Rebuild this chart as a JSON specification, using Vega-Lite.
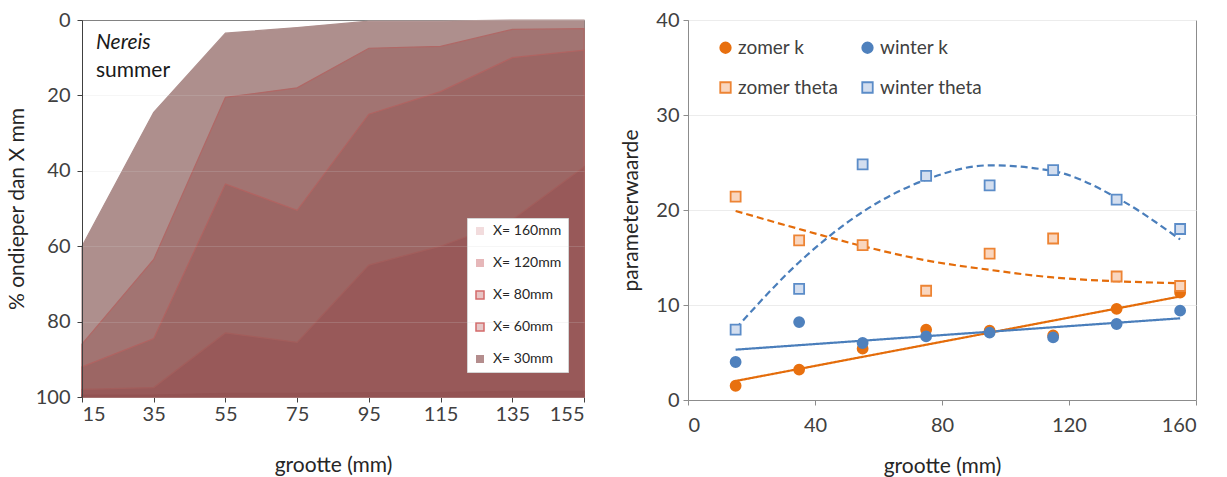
{
  "$schema": "https://vega.github.io/schema/vega-lite/v6.json",
  "padding": {"left": 5, "top": 9, "right": 10, "bottom": 4},
  "spacing": 32,
  "resolve": {
    "scale": {"color": "independent", "fill": "independent", "stroke": "independent", "shape": "independent", "strokeDash": "independent", "x": "independent", "y": "independent"},
    "legend": {"color": "independent", "fill": "independent", "stroke": "independent", "shape": "independent"}
  },
  "config": {
    "font": "Lato",
    "view": {"stroke": null},
    "axis": {
      "labelFont": "Lato", "titleFont": "Lato",
      "labelFontSize": 20, "titleFontSize": 21,
      "labelColor": "#404040", "titleColor": "#262626",
      "titleFontWeight": "normal",
      "tickSize": 5
    },
    "legend": {"labelFont": "Lato", "labelColor": "#262626"}
  },
  "datasets": {
    "depth": [
      {"grootte": 15, "laag": "X= 160mm", "pct": 60},
      {"grootte": 35, "laag": "X= 160mm", "pct": 24.5},
      {"grootte": 55, "laag": "X= 160mm", "pct": 3.5},
      {"grootte": 75, "laag": "X= 160mm", "pct": 2},
      {"grootte": 95, "laag": "X= 160mm", "pct": 0.3},
      {"grootte": 115, "laag": "X= 160mm", "pct": 0.3},
      {"grootte": 135, "laag": "X= 160mm", "pct": 0},
      {"grootte": 155, "laag": "X= 160mm", "pct": 0},
      {"grootte": 15, "laag": "X= 120mm", "pct": 86},
      {"grootte": 35, "laag": "X= 120mm", "pct": 63.5},
      {"grootte": 55, "laag": "X= 120mm", "pct": 20.5},
      {"grootte": 75, "laag": "X= 120mm", "pct": 18},
      {"grootte": 95, "laag": "X= 120mm", "pct": 7.5},
      {"grootte": 115, "laag": "X= 120mm", "pct": 7},
      {"grootte": 135, "laag": "X= 120mm", "pct": 2.5},
      {"grootte": 155, "laag": "X= 120mm", "pct": 2.3},
      {"grootte": 15, "laag": "X= 80mm", "pct": 92},
      {"grootte": 35, "laag": "X= 80mm", "pct": 84.5},
      {"grootte": 55, "laag": "X= 80mm", "pct": 43.5},
      {"grootte": 75, "laag": "X= 80mm", "pct": 50.5},
      {"grootte": 95, "laag": "X= 80mm", "pct": 25},
      {"grootte": 115, "laag": "X= 80mm", "pct": 19},
      {"grootte": 135, "laag": "X= 80mm", "pct": 10},
      {"grootte": 155, "laag": "X= 80mm", "pct": 8},
      {"grootte": 15, "laag": "X= 60mm", "pct": 98},
      {"grootte": 35, "laag": "X= 60mm", "pct": 97.5},
      {"grootte": 55, "laag": "X= 60mm", "pct": 83},
      {"grootte": 75, "laag": "X= 60mm", "pct": 85.5},
      {"grootte": 95, "laag": "X= 60mm", "pct": 65},
      {"grootte": 115, "laag": "X= 60mm", "pct": 60},
      {"grootte": 135, "laag": "X= 60mm", "pct": 53},
      {"grootte": 155, "laag": "X= 60mm", "pct": 39},
      {"grootte": 15, "laag": "X= 30mm", "pct": 99.5},
      {"grootte": 35, "laag": "X= 30mm", "pct": 99.5},
      {"grootte": 55, "laag": "X= 30mm", "pct": 99},
      {"grootte": 75, "laag": "X= 30mm", "pct": 99},
      {"grootte": 95, "laag": "X= 30mm", "pct": 98.8},
      {"grootte": 115, "laag": "X= 30mm", "pct": 98.8},
      {"grootte": 135, "laag": "X= 30mm", "pct": 98.5},
      {"grootte": 155, "laag": "X= 30mm", "pct": 98.5}
    ],
    "labels": [
      {"tekst": "Nereis", "grootte": 15, "pct": 6, "stijl": "italic"},
      {"tekst": "summer", "grootte": 15, "pct": 13.4, "stijl": "normal"}
    ],
    "pts": [
      {"grootte": 15, "reeks": "zomer k", "waarde": 1.5},
      {"grootte": 35, "reeks": "zomer k", "waarde": 3.2},
      {"grootte": 55, "reeks": "zomer k", "waarde": 5.4},
      {"grootte": 75, "reeks": "zomer k", "waarde": 7.4},
      {"grootte": 95, "reeks": "zomer k", "waarde": 7.3},
      {"grootte": 115, "reeks": "zomer k", "waarde": 6.8},
      {"grootte": 135, "reeks": "zomer k", "waarde": 9.6},
      {"grootte": 155, "reeks": "zomer k", "waarde": 11.3},
      {"grootte": 15, "reeks": "winter k", "waarde": 4.0},
      {"grootte": 35, "reeks": "winter k", "waarde": 8.2},
      {"grootte": 55, "reeks": "winter k", "waarde": 6.0},
      {"grootte": 75, "reeks": "winter k", "waarde": 6.7},
      {"grootte": 95, "reeks": "winter k", "waarde": 7.1},
      {"grootte": 115, "reeks": "winter k", "waarde": 6.6},
      {"grootte": 135, "reeks": "winter k", "waarde": 8.0},
      {"grootte": 155, "reeks": "winter k", "waarde": 9.4},
      {"grootte": 15, "reeks": "zomer theta", "waarde": 21.4},
      {"grootte": 35, "reeks": "zomer theta", "waarde": 16.8},
      {"grootte": 55, "reeks": "zomer theta", "waarde": 16.3},
      {"grootte": 75, "reeks": "zomer theta", "waarde": 11.5},
      {"grootte": 95, "reeks": "zomer theta", "waarde": 15.4},
      {"grootte": 115, "reeks": "zomer theta", "waarde": 17.0},
      {"grootte": 135, "reeks": "zomer theta", "waarde": 13.0},
      {"grootte": 155, "reeks": "zomer theta", "waarde": 12.0},
      {"grootte": 15, "reeks": "winter theta", "waarde": 7.4},
      {"grootte": 35, "reeks": "winter theta", "waarde": 11.7},
      {"grootte": 55, "reeks": "winter theta", "waarde": 24.8},
      {"grootte": 75, "reeks": "winter theta", "waarde": 23.6},
      {"grootte": 95, "reeks": "winter theta", "waarde": 22.6},
      {"grootte": 115, "reeks": "winter theta", "waarde": 24.2},
      {"grootte": 135, "reeks": "winter theta", "waarde": 21.1},
      {"grootte": 155, "reeks": "winter theta", "waarde": 18.0}
    ],
    "trend": [
      {"grootte": 15, "reeks": "zomer k", "waarde": 2.0},
      {"grootte": 155, "reeks": "zomer k", "waarde": 10.9},
      {"grootte": 15, "reeks": "winter k", "waarde": 5.3},
      {"grootte": 155, "reeks": "winter k", "waarde": 8.6},
      {"grootte": 15, "reeks": "zomer theta", "waarde": 19.9},
      {"grootte": 35, "reeks": "zomer theta", "waarde": 18.0},
      {"grootte": 55, "reeks": "zomer theta", "waarde": 16.2},
      {"grootte": 75, "reeks": "zomer theta", "waarde": 14.7},
      {"grootte": 95, "reeks": "zomer theta", "waarde": 13.7},
      {"grootte": 115, "reeks": "zomer theta", "waarde": 12.9},
      {"grootte": 135, "reeks": "zomer theta", "waarde": 12.5},
      {"grootte": 155, "reeks": "zomer theta", "waarde": 12.3},
      {"grootte": 15, "reeks": "winter theta", "waarde": 7.5},
      {"grootte": 35, "reeks": "winter theta", "waarde": 14.5},
      {"grootte": 55, "reeks": "winter theta", "waarde": 19.8},
      {"grootte": 75, "reeks": "winter theta", "waarde": 23.2},
      {"grootte": 95, "reeks": "winter theta", "waarde": 24.7},
      {"grootte": 115, "reeks": "winter theta", "waarde": 24.1},
      {"grootte": 135, "reeks": "winter theta", "waarde": 21.3},
      {"grootte": 155, "reeks": "winter theta", "waarde": 16.9}
    ]
  },
  "hconcat": [
    {
      "width": 502,
      "height": 377,
      "view": {"stroke": "#6e6e6e"},
      "layer": [
        {
          "data": {"name": "depth"},
          "mark": {"type": "area", "strokeWidth": 1.2},
          "encoding": {
            "x": {"field": "grootte", "type": "quantitative",
              "scale": {"domain": [15, 155], "nice": false, "zero": false},
              "axis": {"values": [15, 35, 55, 75, 95, 115, 135, 155], "title": "grootte (mm)", "labelPadding": 2, "titlePadding": 30, "grid": false, "domainColor": "#404040", "tickColor": "#404040"}},
            "y": {"field": "pct", "type": "quantitative", "stack": null,
              "scale": {"domain": [0, 100], "reverse": true, "nice": false},
              "axis": {"values": [0, 20, 40, 60, 80, 100], "title": "% ondieper dan  X mm", "labelPadding": 7, "titlePadding": 8, "grid": true, "gridColor": "#d0d0d0", "gridOpacity": 0.2, "zindex": 1, "domainColor": "#404040", "tickColor": "#404040"}},
            "y2": {"datum": 100},
            "fill": {"field": "laag", "type": "nominal",
              "scale": {"domain": ["X= 30mm", "X= 60mm", "X= 80mm", "X= 120mm", "X= 160mm"], "range": ["#935353", "#985959", "#9c6664", "#a27472", "#ae8f8d"]},
              "legend": null},
            "stroke": {"field": "laag", "type": "nominal",
              "scale": {"domain": ["X= 30mm", "X= 60mm", "X= 80mm", "X= 120mm", "X= 160mm"], "range": ["#935353", "#a25e5c", "#b06462", "#b06866", "#ae8f8d"]},
              "legend": null}
          }
        },
        {
          "data": {"name": "depth"},
          "mark": {"type": "point", "shape": "square", "filled": true, "opacity": 0},
          "encoding": {
            "x": {"field": "grootte", "type": "quantitative"},
            "y": {"field": "pct", "type": "quantitative"},
            "color": {"field": "laag", "type": "nominal",
              "scale": {"domain": ["X= 160mm", "X= 120mm", "X= 80mm", "X= 60mm", "X= 30mm"], "range": ["#f2dcdd", "#e6b7b9", "#e8c4c4", "#e6c8c8", "#b48d8d"]},
              "legend": {"title": null, "orient": "none", "legendX": 385, "legendY": 198,
                "fillColor": "#ffffff", "strokeColor": "#d4d4d4", "padding": 6,
                "symbolType": "square", "symbolSize": 64, "symbolOpacity": 1,
                "labelFontSize": 14, "rowPadding": 18, "labelOffset": 6,
                "encode": {"symbols": {"update": {
                  "stroke": {"signal": "datum.value == 'X= 80mm' || datum.value == 'X= 60mm' ? '#d46a6a' : null"},
                  "strokeWidth": {"value": 1.5},
                  "opacity": {"value": 1}}}}}}
          }
        },
        {
          "data": {"name": "labels"},
          "transform": [{"filter": "datum.stijl == 'italic'"}],
          "mark": {"type": "text", "align": "left", "baseline": "middle", "dx": 14, "fontSize": 21, "fontStyle": "italic", "color": "#1a1a1a"},
          "encoding": {
            "x": {"field": "grootte", "type": "quantitative"},
            "y": {"field": "pct", "type": "quantitative"},
            "text": {"field": "tekst"}
          }
        },
        {
          "data": {"name": "labels"},
          "transform": [{"filter": "datum.stijl == 'normal'"}],
          "mark": {"type": "text", "align": "left", "baseline": "middle", "dx": 14, "fontSize": 21, "color": "#1a1a1a"},
          "encoding": {
            "x": {"field": "grootte", "type": "quantitative"},
            "y": {"field": "pct", "type": "quantitative"},
            "text": {"field": "tekst"}
          }
        }
      ]
    },
    {
      "width": 508,
      "height": 380,
      "view": {"stroke": "#8c8c8c"},
      "layer": [
        {
          "data": {"name": "trend"},
          "mark": {"type": "line", "strokeWidth": 2.2, "interpolate": "monotone"},
          "encoding": {
            "x": {"field": "grootte", "type": "quantitative",
              "scale": {"domain": [0, 160], "nice": false},
              "axis": {"values": [0, 40, 80, 120, 160], "title": "grootte (mm)", "labelPadding": 10, "titlePadding": 20, "grid": false, "domainColor": "#8c8c8c", "tickColor": "#8c8c8c"}},
            "y": {"field": "waarde", "type": "quantitative",
              "scale": {"domain": [0, 40], "nice": false},
              "axis": {"values": [0, 10, 20, 30, 40], "title": "parameterwaarde", "labelPadding": 4, "titlePadding": 14, "grid": true, "gridColor": "#ececec", "domainColor": "#8c8c8c", "tickColor": "#8c8c8c"}},
            "color": {"field": "reeks", "type": "nominal",
              "scale": {"domain": ["winter theta", "zomer theta", "winter k", "zomer k"], "range": ["#4a7ebb", "#e46c0a", "#4a7ebb", "#e46c0a"]},
              "legend": null},
            "strokeDash": {"field": "reeks", "type": "nominal",
              "scale": {"domain": ["zomer theta", "winter theta", "zomer k", "winter k"], "range": [[7, 4], [7, 4], [1, 0], [1, 0]]},
              "legend": null}
          }
        },
        {
          "data": {"name": "pts"},
          "mark": {"type": "point", "size": 100, "strokeWidth": 1.8, "opacity": 1},
          "encoding": {
            "x": {"field": "grootte", "type": "quantitative"},
            "y": {"field": "waarde", "type": "quantitative"},
            "fill": {"field": "reeks", "type": "nominal",
              "scale": {"domain": ["zomer k", "zomer theta", "winter k", "winter theta"], "range": ["#e8700f", "#f9d6bf", "#4f81bd", "#d3deef"]},
              "legend": {"title": null, "orient": "none", "legendX": 28, "legendY": 18, "padding": 0, "columns": 2, "columnPadding": 19, "rowPadding": 20, "labelFontSize": 19, "symbolSize": 110, "symbolStrokeWidth": 1.8, "labelOffset": 3, "labelColor": "#404040"}},
            "stroke": {"field": "reeks", "type": "nominal",
              "scale": {"domain": ["zomer k", "zomer theta", "winter k", "winter theta"], "range": ["#e8700f", "#ed8434", "#4f81bd", "#5b8cc8"]},
              "legend": {"title": null, "orient": "none", "legendX": 28, "legendY": 18, "padding": 0, "columns": 2, "columnPadding": 19, "rowPadding": 20, "labelFontSize": 19, "symbolSize": 110, "symbolStrokeWidth": 1.8, "labelOffset": 3, "labelColor": "#404040"}},
            "shape": {"field": "reeks", "type": "nominal",
              "scale": {"domain": ["zomer k", "zomer theta", "winter k", "winter theta"], "range": ["circle", "square", "circle", "square"]},
              "legend": {"title": null, "orient": "none", "legendX": 28, "legendY": 18, "padding": 0, "columns": 2, "columnPadding": 19, "rowPadding": 20, "labelFontSize": 19, "symbolSize": 110, "symbolStrokeWidth": 1.8, "labelOffset": 3, "labelColor": "#404040"}}
          }
        }
      ]
    }
  ]
}
